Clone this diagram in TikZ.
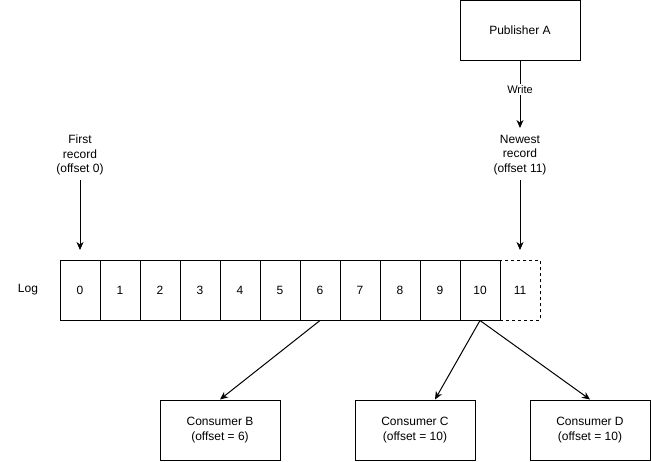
\documentclass[tikz,border=0pt]{standalone}
\usepackage{fontspec}
\setmainfont{Liberation Sans}
\usetikzlibrary{arrows.meta}
\begin{document}
\begin{tikzpicture}[x=1pt,y=-1pt,
  every node/.style={font=\fontsize{12}{14.5}\selectfont},
  box/.style={draw,line width=1pt,minimum width=120pt,minimum height=60pt,inner sep=0pt,align=center},
  cell/.style={draw,line width=1pt,minimum width=40pt,minimum height=60pt,inner sep=0pt},
  dcell/.style={draw,line width=1pt,dashed,dash pattern=on 3pt off 3pt,minimum width=40pt,minimum height=60pt,inner sep=0pt},
  lbl/.style={align=center,inner sep=0pt},
  arr/.style={line width=1pt,-{Stealth[length=8pt,width=7pt,inset=2.5pt]}}]
\useasboundingbox (0,0) rectangle (651,461);
\node[box] (pub) at (520,30.5) {Publisher A};
\node[lbl] (newest) at (520,155) {Newest\\record\\(offset 11)};
\node[lbl] (first) at (80,155) {First\\record\\(offset 0)};
\node[lbl] (log) at (28,290) {Log};
\foreach \i in {0,...,10}{
  \node[cell] (c\i) at (80+40*\i,290) {\i};
}
\node[dcell] (c11) at (520,290) {11};
\node[box] (cb) at (220,430) {Consumer B\\(offset = 6)};
\node[box] (cc) at (415,430) {Consumer C\\(offset = 10)};
\node[box] (cd) at (590,430) {Consumer D\\(offset = 10)};
\coordinate (nwin) at (520,128);
\coordinate (nwout) at (520,180);
\coordinate (frout) at (80,180);
\coordinate (c11in) at (520,250);
\coordinate (c0in) at (80,250);
\draw[arr] (pub.south) -- node[pos=0.43,fill=white,inner sep=1.5pt,font=\fontsize{11}{13}\selectfont]{Write} (nwin);
\draw[arr] (nwout) -- (c11in);
\draw[arr] (frout) -- (c0in);
\draw[arr] (c6.south) -- (cb.north);
\draw[arr] (c10.south) -- ([xshift=20pt]cc.north);
\draw[arr] (c10.south) -- (cd.north);
\end{tikzpicture}
\end{document}
